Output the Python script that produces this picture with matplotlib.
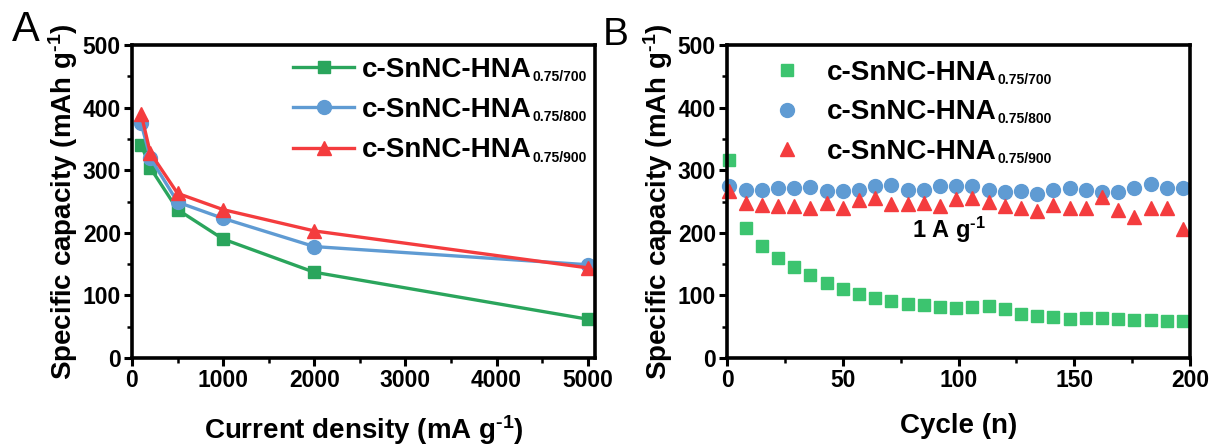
import matplotlib
matplotlib.use("Agg")
import matplotlib.pyplot as plt
from matplotlib.ticker import MultipleLocator

plt.rcParams['font.family'] = ['Liberation Sans', 'DejaVu Sans']
plt.rcParams['font.weight'] = 'bold'
plt.rcParams['mathtext.fontset'] = 'custom'
plt.rcParams['mathtext.rm'] = 'Liberation Sans:bold'
plt.rcParams['mathtext.it'] = 'Liberation Sans:bold'
plt.rcParams['mathtext.bf'] = 'Liberation Sans:bold'

# Rate capability (panel A)
current_density = [100, 200, 500, 1000, 2000, 5000]
cap_700 = [341, 304, 237, 190, 137, 62]
cap_800 = [375, 320, 249, 223, 178, 149]
cap_900 = [390, 328, 263, 237, 203, 144]

# Cycling at 1 A g-1 (panel B)
cycles = [1, 8, 15, 22, 29, 36, 43, 50, 57, 64, 71, 78, 85, 92, 99, 106,
          113, 120, 127, 134, 141, 148, 155, 162, 169, 176, 183, 190, 197]
cyc_700 = [316, 208, 179, 159, 146, 132, 120, 110, 102, 96, 91, 87, 84, 82,
           80, 81, 83, 78, 71, 67, 65, 63, 64, 64, 62, 61, 60.5, 59.5, 59.5]
cyc_800 = [274, 268, 269, 271, 272, 273, 267, 266, 269, 275, 276, 269, 269,
           274, 274, 274, 268, 265, 267, 262, 269, 271, 268, 265, 265, 272,
           278, 272, 271]
cyc_900 = [266, 248, 244, 243, 243, 240, 247, 240, 252, 256, 246, 246, 248,
           243, 254, 255, 249, 243, 240, 235, 244, 240, 240, 257, 236, 226,
           239, 239, 206]

sample_name = 'c-SnNC-HNA'
sample_subs = ['0.75/700', '0.75/800', '0.75/900']

green_a, blue_a, red_a = '#2aa55c', '#5f9bd3', '#f43c3e'
green_b, blue_b, red_b = '#3cc46f', '#5f9bd3', '#f43c3e'

inv_g = r'g$^{\text{-}1}$'

fig = plt.figure(figsize=(12.17, 4.46), dpi=100)
W, H = 1217, 446
ax1 = fig.add_axes([132 / W, 1 - 358 / H, (595 - 132) / W, (358 - 45) / H])
ax2 = fig.add_axes([727 / W, 1 - 358 / H, (1190 - 727) / W, (358 - 45) / H])

lw = 2.4
ax1.plot(current_density, cap_700, '-s', color=green_a, lw=lw, ms=9)
ax1.plot(current_density, cap_800, '-o', color=blue_a, lw=lw, ms=10)
ax1.plot(current_density, cap_900, '-^', color=red_a, lw=lw, ms=10.5)

ax2.plot(cycles, cyc_700, 's', color=green_b, ms=9, clip_on=False)
ax2.plot(cycles, cyc_800, 'o', color=blue_b, ms=10, clip_on=False)
ax2.plot(cycles, cyc_900, '^', color=red_b, ms=10.5, clip_on=False)

ax1.set_xlim(0, 5080)
ax2.set_xlim(0, 200)
for ax in (ax1, ax2):
    ax.set_ylim(0, 500)
    ax.yaxis.set_major_locator(MultipleLocator(100))
    ax.yaxis.set_minor_locator(MultipleLocator(50))
    for s in ax.spines.values():
        s.set_linewidth(2.6)
    ax.tick_params(which='major', direction='out', length=6, width=2.2,
                   labelsize=16.5, pad=2, top=False, right=False)
    ax.tick_params(which='minor', direction='out', length=3.5, width=1.8,
                   top=False, right=False)
    for t in ax.get_xticklabels() + ax.get_yticklabels():
        t.set_fontweight('bold')
    ax.set_ylabel('Specific capacity (mAh ' + inv_g + ')', fontsize=20,
                  fontweight='bold', labelpad=2)

ax1.xaxis.set_major_locator(MultipleLocator(1000))
ax1.xaxis.set_minor_locator(MultipleLocator(500))
ax2.xaxis.set_major_locator(MultipleLocator(50))
ax2.xaxis.set_minor_locator(MultipleLocator(25))

ax1.set_xlabel('Current density (mA ' + inv_g + ')', fontsize=20, fontweight='bold', labelpad=15)
ax2.set_xlabel('Cycle (n)', fontsize=20, fontweight='bold', labelpad=15)

leg1 = ax1.legend(ax1.get_lines(), [sample_name] * 3,
                  loc='upper left', bbox_to_anchor=(0.348, 0.963), frameon=False,
                  fontsize=20, handlelength=2.2, handletextpad=0.27,
                  labelspacing=0.52, borderaxespad=0, borderpad=0)
leg2 = ax2.legend(ax2.get_lines(), [sample_name] * 3,
                  loc='upper left', bbox_to_anchor=(0.1, 0.952), frameon=False,
                  fontsize=20, handlelength=1.0, handletextpad=0.92,
                  labelspacing=0.48, borderaxespad=0, borderpad=0)

# subscripts next to each legend entry
for ax, leg in ((ax1, leg1), (ax2, leg2)):
    for txt, sub in zip(leg.get_texts(), sample_subs):
        ax.annotate(sub, xy=(1, 0), xycoords=txt, xytext=(1.0, -0.8),
                    textcoords='offset points', fontsize=10, fontweight='bold',
                    ha='left', va='bottom', zorder=10, annotation_clip=False)

ax2.text(80, 204, '1 A ' + inv_g, fontsize=17, fontweight='bold',
         ha='left', va='center')

fig.text(12 / W, 1 - 30 / H, 'A', fontsize=30, fontweight='normal', va='center')
fig.text(603 / W, 1 - 35 / H, 'B', fontsize=28, fontweight='normal', va='center')

fig.savefig('out.png', dpi=100)
